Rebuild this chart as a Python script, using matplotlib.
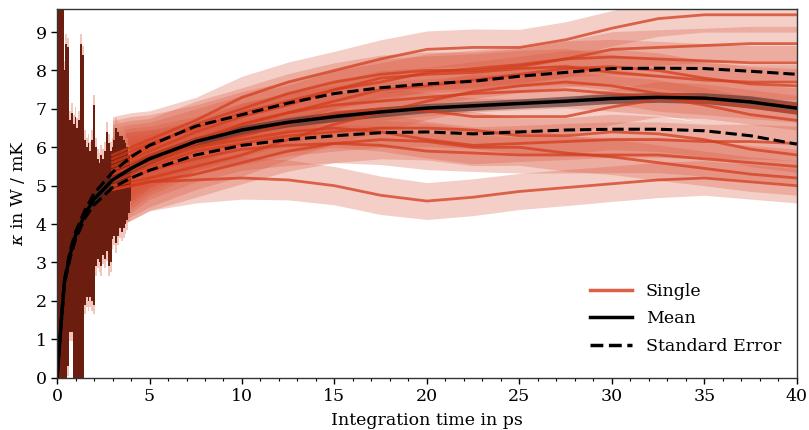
import numpy as np
import matplotlib
matplotlib.use("Agg")
import matplotlib.pyplot as plt

plt.rcParams['font.family'] = ['DejaVu Serif']
plt.rcParams['mathtext.fontset'] = 'dejavuserif'

# ---- data ----
# sample times of the smoothed single runs (ps)
t_single = [3, 4, 5, 7.5, 10, 12.5, 15, 17.5, 20, 22.5, 25, 27.5, 30, 32.5, 35, 37.5, 40]

single_runs = [
    [5.8, 6.0, 6.2, 6.7, 7.3, 7.7, 8.0, 8.3, 8.55, 8.6, 8.6, 8.8, 9.1, 9.35, 9.45, 9.45, 9.45],
    [5.7, 5.9, 6.1, 6.5, 6.9, 7.2, 7.5, 7.7, 7.95, 8.05, 8.15, 8.3, 8.55, 8.6, 8.65, 8.7, 8.7],
    [5.6, 5.8, 6.0, 6.6, 7.0, 7.4, 7.7, 7.9, 8.0, 8.0, 8.1, 8.3, 8.35, 8.3, 8.25, 8.2, 8.2],
    [5.5, 5.7, 5.9, 6.4, 6.8, 7.1, 7.5, 7.8, 7.9, 7.95, 8.05, 8.1, 7.95, 7.85, 7.75, 7.7, 7.7],
    [5.4, 5.6, 5.8, 6.2, 6.6, 6.9, 7.2, 7.5, 7.6, 7.75, 7.9, 8.05, 8.1, 8.0, 7.8, 7.65, 7.6],
    [5.2, 5.4, 5.6, 6.0, 6.3, 6.6, 6.9, 7.0, 6.95, 6.8, 6.8, 6.8, 7.05, 7.25, 7.2, 7.05, 6.9],
    [5.3, 5.5, 5.7, 6.1, 6.6, 6.9, 7.1, 7.2, 7.3, 7.4, 7.45, 7.5, 7.4, 7.3, 7.1, 6.85, 6.7],
    [5.3, 5.5, 5.7, 6.0, 6.2, 6.4, 6.5, 6.4, 6.2, 6.05, 6.1, 6.15, 6.2, 6.2, 6.15, 6.15, 6.1],
    [5.0, 5.2, 5.4, 5.7, 5.95, 6.05, 6.1, 6.05, 5.9, 5.85, 5.8, 5.8, 5.8, 5.8, 5.7, 5.6, 5.5],
    [4.9, 5.0, 5.1, 5.3, 5.6, 5.9, 6.1, 6.2, 6.15, 6.0, 6.0, 5.85, 5.75, 5.6, 5.45, 5.3, 5.2],
    [4.9, 5.0, 5.1, 5.15, 5.2, 5.15, 5.0, 4.75, 4.6, 4.7, 4.85, 4.95, 5.05, 5.15, 5.2, 5.1, 5.0],
    [5.0, 5.1, 5.2, 5.5, 5.8, 6.2, 6.6, 6.9, 7.2, 7.45, 7.6, 7.7, 7.6, 7.4, 7.3, 7.2, 7.1],
    [5.1, 5.3, 5.5, 5.9, 6.1, 6.3, 6.4, 6.5, 6.5, 6.45, 6.3, 6.3, 6.4, 6.35, 6.2, 5.95, 5.8],
]
# half width of the raw-data scatter around each run
single_spread = [1.0, 0.9, 0.75, 0.6, 0.55, 0.52, 0.5, 0.5, 0.48, 0.48, 0.47, 0.47, 0.46, 0.46, 0.45, 0.45, 0.45]

# raw data envelope during the first ps (heavy oscillations)
t_early = [0.0, 0.1, 0.2, 0.3, 0.4, 0.5, 0.6, 0.7, 0.8, 0.9, 1.0, 1.1, 1.2, 1.3, 1.4,
           1.5, 1.6, 1.7, 1.8, 1.9, 2.0, 2.1, 2.2, 2.3, 2.4, 2.5, 2.6, 2.7, 2.8, 2.9,
           3.0, 3.1, 3.2, 3.3, 3.4, 3.5, 3.6, 3.7, 3.8, 3.9, 4.0]
early_high = [9.6, 9.6, 9.6, 9.6, 8.0, 8.7, 8.6, 6.7, 6.9, 6.6, 6.8, 6.5, 6.7, 8.7, 8.4,
              6.2, 6.0, 6.1, 5.9, 6.2, 7.1, 6.0, 5.7, 5.6, 5.8, 5.7, 5.9, 6.4, 6.1, 5.9,
              6.0, 6.2, 6.5, 6.4, 6.3, 6.3, 6.2, 6.1, 6.0, 5.8, 5.5]
early_low = [0.0, 0.0, 0.0, 0.0, 0.0, 0.0, 0.3, 1.2, 1.2, 0.0, 0.0, 0.0, 0.0, 0.0, 0.0,
             1.9, 2.1, 2.0, 2.1, 2.0, 1.9, 2.9, 3.1, 3.0, 2.9, 3.2, 3.1, 3.3, 2.9, 3.0,
             3.6, 3.7, 3.5, 3.7, 3.9, 3.8, 3.9, 4.0, 4.1, 4.3, 4.6]
early_pad = 0.25

# mean and standard error
t_mean = [0, 0.2, 0.4, 0.7, 1, 1.5, 2, 3, 4, 5, 7.5, 10, 12.5, 15, 17.5, 20,
          22.5, 25, 27.5, 30, 32.5, 35, 37.5, 40]
kappa_mean = [0, 1.3, 2.5, 3.2, 3.7, 4.25, 4.65, 5.15, 5.45, 5.7, 6.15, 6.45, 6.65, 6.8, 6.92, 7.02,
              7.08, 7.14, 7.2, 7.27, 7.3, 7.28, 7.18, 7.02]
kappa_upper = [0, 1.35, 2.55, 3.3, 3.8, 4.35, 4.8, 5.35, 5.75, 6.05, 6.55, 6.85, 7.15, 7.4, 7.55, 7.65,
               7.72, 7.85, 7.95, 8.05, 8.06, 8.05, 7.98, 7.9]
kappa_lower = [0, 1.25, 2.45, 3.1, 3.6, 4.15, 4.5, 4.95, 5.2, 5.4, 5.8, 6.05, 6.2, 6.3, 6.38, 6.4,
               6.35, 6.4, 6.45, 6.47, 6.47, 6.43, 6.3, 6.08]
mean_spread = [0, 0.1, 0.15, 0.15, 0.15, 0.15, 0.15, 0.15, 0.15, 0.14, 0.12, 0.12, 0.12, 0.13, 0.13, 0.12,
               0.12, 0.12, 0.13, 0.13, 0.13, 0.14, 0.16, 0.16]

# ---- plotting ----
fig = plt.figure(figsize=(8.09, 4.30), dpi=100)
ax = fig.add_axes([0.0705, 0.1216, 0.9145, 0.8574])

band_col = '#d9533a'
line_col = '#d23c1c'
dark_col = '#6b1e10'

t_s = np.array(t_single)
w = np.array(single_spread)
for run in single_runs:
    y = np.array(run)
    ax.fill_between(t_s, y - w, y + w, color=band_col, alpha=0.28, lw=0)

te = np.array(t_early)
hi = np.array(early_high)
lo = np.array(early_low)
ax.fill_between(te, lo - early_pad, hi + early_pad, step='mid', color='#e4907c', alpha=0.5, lw=0)
ax.fill_between(te, lo, hi, step='mid', color=dark_col, lw=0)

for run in single_runs:
    ax.plot(t_single, run, color=line_col, alpha=0.75, lw=2)

tm = np.array(t_mean)
km = np.array(kappa_mean)
sp = np.array(mean_spread)
ax.fill_between(tm, km - sp, km + sp, color='#3b2a28', alpha=0.55, lw=0)
ax.plot(t_mean, kappa_mean, color='black', lw=2.5)
ax.plot(t_mean, kappa_upper, color='black', lw=2.2, ls='--')
ax.plot(t_mean, kappa_lower, color='black', lw=2.2, ls='--')

# legend proxies
ax.plot([], [], color='#dd5f45', lw=2.5, label='Single')
ax.plot([], [], color='black', lw=2.5, label='Mean')
ax.plot([], [], color='black', lw=2.5, ls='--', label='Standard Error')
handles, labels = ax.get_legend_handles_labels()
ax.legend(handles[-3:], labels[-3:], loc='lower right', frameon=False, fontsize=12.5,
          handlelength=2.4, labelspacing=0.6, bbox_to_anchor=(1.0, 0.02))

ax.set_xlim(0, 40)
ax.set_ylim(0, 9.6)
ax.set_xticks(np.arange(0, 41, 5))
ax.set_xticks(np.arange(0, 41, 1), minor=True)
ax.set_yticks(np.arange(0, 10, 1))
ax.tick_params(axis='both', which='major', labelsize=12.5, direction='out', length=4, width=1)
ax.tick_params(axis='x', which='minor', direction='out', length=2.5, width=0.8)
for s in ax.spines.values():
    s.set_color('#333333')
    s.set_linewidth(1)

ax.set_xlabel('Integration time in ps', fontsize=12.5, labelpad=5)
ax.set_ylabel(r'$\kappa$ in W / mK', fontsize=12.5, labelpad=6)

fig.savefig('out.png', dpi=100)
